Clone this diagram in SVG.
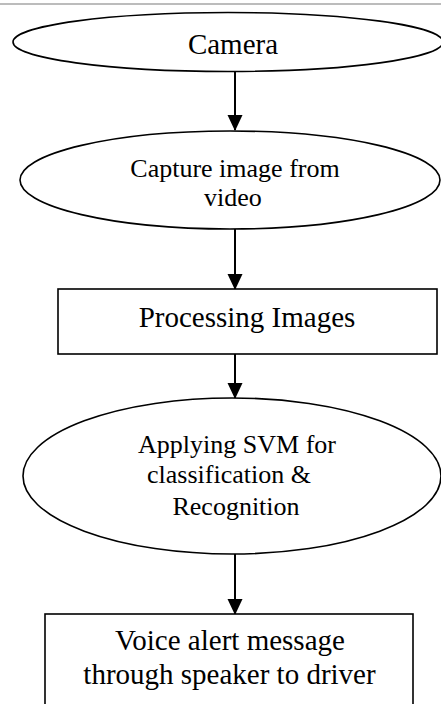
<svg xmlns="http://www.w3.org/2000/svg" width="441" height="704" viewBox="0 0 441 704">
  <style>
    .shape { fill: #ffffff; stroke: #000000; stroke-width: 1.6; }
    .label { font-family: "Liberation Serif", "Times New Roman", serif; fill: #000000; text-anchor: middle; }
    .edge { stroke: #000000; stroke-width: 2; fill: none; marker-end: url(#arrow); }
  </style>
  <defs>
    <marker id="arrow" markerWidth="16" markerHeight="17" refX="15" refY="7.5" orient="auto" markerUnits="userSpaceOnUse">
      <path d="M0,0 L16,7.5 L0,15 Z" fill="#000000"/>
    </marker>
  </defs>

  <rect x="0" y="0" width="441" height="704" fill="#ffffff"/>
  <line x1="0" y1="4" x2="441" y2="4" stroke="#a6a6a6" stroke-width="1.6"/>

  <g id="connectors">
    <line class="edge" x1="235" y1="72" x2="235" y2="130"/>
    <line class="edge" x1="235" y1="229" x2="235" y2="289"/>
    <line class="edge" x1="235" y1="354" x2="235" y2="398"/>
    <line class="edge" x1="235" y1="554" x2="235" y2="614"/>
  </g>

  <g id="camera">
    <ellipse class="shape" cx="228" cy="42" rx="215" ry="29.5"/>
    <text class="label" x="233" y="54" font-size="29">Camera</text>
  </g>

  <g id="capture">
    <ellipse class="shape" cx="230" cy="180" rx="210" ry="49"/>
    <text class="label" x="235" y="177" font-size="26">Capture image from</text>
    <text class="label" x="233" y="206" font-size="26">video</text>
  </g>

  <g id="processing">
    <rect class="shape" x="58" y="289" width="379" height="65"/>
    <text class="label" x="247" y="327" font-size="29">Processing Images</text>
  </g>

  <g id="svm">
    <ellipse class="shape" cx="232" cy="476" rx="209" ry="78"/>
    <text class="label" x="237" y="453" font-size="26">Applying SVM for</text>
    <text class="label" x="229" y="483" font-size="26">classification &amp;</text>
    <text class="label" x="236" y="515" font-size="26">Recognition</text>
  </g>

  <g id="voice-alert">
    <rect class="shape" x="45" y="614" width="368" height="110"/>
    <text class="label" x="230" y="650" font-size="29">Voice alert message</text>
    <text class="label" x="229.5" y="684" font-size="29">through speaker to driver</text>
  </g>
</svg>
